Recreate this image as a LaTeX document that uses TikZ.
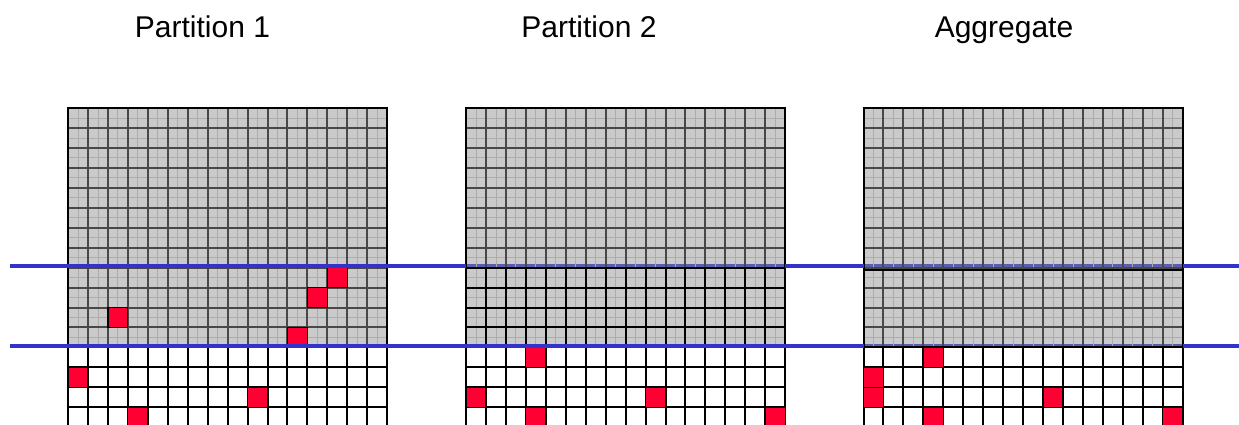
\documentclass[tikz,border=0pt]{standalone}
\usepackage{fontspec}
\setmainfont{Liberation Sans}
\definecolor{bl}{RGB}{51,51,204}
\definecolor{blc}{RGB}{92,92,176}
\definecolor{gf}{RGB}{202,202,202}
\definecolor{gsub}{RGB}{172,172,172}
\definecolor{gmaj}{RGB}{72,72,72}
\definecolor{rc}{RGB}{255,0,51}
\def\cs{19.95}
\def\T{108}
\tikzset{
  subl/.style={draw=gsub,line width=0.8pt},
  majg/.style={draw=gmaj,line width=2pt},
  majb/.style={draw=black,line width=2pt},
  bord/.style={draw=black,line width=2pt},
  redc/.style={fill=rc,draw=black,line width=1.2pt},
  blueline/.style={draw=bl,line width=4.2pt},
  bluecov/.style={draw=blc,line width=4.2pt},
  title/.style={font=\fontsize{30}{36}\selectfont,anchor=base,inner sep=0pt}
}
\newcommand\greyfill[3]{\fill[gf] (#1,{\T+#2*\cs}) rectangle ({#1+16*\cs},{\T+#3*\cs});}
\newcommand\subgrid[3]{%
  \foreach \i in {0,...,15} {\draw[subl] ({#1+(\i+0.5)*\cs},{\T+#2*\cs}) -- ({#1+(\i+0.5)*\cs},{\T+#3*\cs});}
  \pgfmathtruncatemacro\rlast{#3-1}
  \foreach \j in {#2,...,\rlast} {\draw[subl] (#1,{\T+(\j+0.5)*\cs}) -- ({#1+16*\cs},{\T+(\j+0.5)*\cs});}
}
\newcommand\majgrid[4]{%
  \foreach \i in {1,...,15} {\draw[#4] ({#1+\i*\cs},{\T+#2*\cs}) -- ({#1+\i*\cs},{\T+#3*\cs});}
  \foreach \j in {#2,...,#3} {\draw[#4] (#1,{\T+\j*\cs}) -- ({#1+16*\cs},{\T+\j*\cs});}
}
\newcommand\redcell[3]{\filldraw[redc] ({#1+#2*\cs},{\T+#3*\cs}) rectangle ++(\cs,\cs);}
\newcommand\border[1]{\draw[bord] (#1,{\T+17*\cs}) -- (#1,\T) -- ({#1+16*\cs},\T) -- ({#1+16*\cs},{\T+17*\cs});}
\begin{document}
\begin{tikzpicture}[x=1pt,y=-1pt]
\useasboundingbox (0,0) rectangle (1239,424);
\clip (0,0) rectangle (1239,424);
\fill[white] (0,0) rectangle (1239,424);

% titles
\node[title] (t1) at (202.5,37) {Partition 1};
\node[title] (t2) at (589,37) {Partition 2};
\node[title] (t3) at (1004,37) {Aggregate};

% ---------- Partition 1 ----------
\def\La{68}
\greyfill{\La}{0}{12}
\subgrid{\La}{0}{12}
\majgrid{\La}{0}{12}{majg}
\majgrid{\La}{12}{16}{majb}
\border{\La}
\redcell{\La}{13}{8}
\redcell{\La}{12}{9}
\redcell{\La}{2}{10}
\redcell{\La}{11}{11}
\redcell{\La}{0}{13}
\redcell{\La}{9}{14}
\redcell{\La}{3}{15}

% ---------- Partition 2 ----------
\def\Lb{466}
\greyfill{\Lb}{0}{12}
\draw[bluecov] (\Lb,265.7) -- ({\Lb+16*\cs},265.7);
\subgrid{\Lb}{0}{12}
\majgrid{\Lb}{0}{8}{majg}
\majgrid{\Lb}{8}{16}{majb}
\border{\Lb}
\redcell{\Lb}{3}{12}
\redcell{\Lb}{0}{14}
\redcell{\Lb}{9}{14}
\redcell{\Lb}{3}{15}
\redcell{\Lb}{15}{15}

% ---------- Aggregate ----------
\def\Lc{863.5}
\greyfill{\Lc}{0}{12}
\draw[bluecov] (\Lc,265.7) -- ({\Lc+16*\cs},265.7);
\draw[bluecov] (\Lc,345.7) -- ({\Lc+16*\cs},345.7);
\subgrid{\Lc}{0}{12}
\majgrid{\Lc}{0}{12}{majg}
\majgrid{\Lc}{12}{16}{majb}
\draw[majb] (\Lc,{\T+8*\cs+2}) -- ({\Lc+16*\cs},{\T+8*\cs+2});
\border{\Lc}
\redcell{\Lc}{3}{12}
\redcell{\Lc}{0}{13}
\redcell{\Lc}{0}{14}
\redcell{\Lc}{9}{14}
\redcell{\Lc}{3}{15}
\redcell{\Lc}{15}{15}

% ---------- blue separator lines ----------
\draw[blueline] (10,265.7) -- (\Lb,265.7);
\draw[blueline] ({\Lb+16*\cs},265.7) -- (\Lc,265.7);
\draw[blueline] ({\Lc+16*\cs},265.7) -- (1239,265.7);
\draw[blueline] (10,345.7) -- (\Lc,345.7);
\draw[blueline] ({\Lc+16*\cs},345.7) -- (1239,345.7);
\end{tikzpicture}
\end{document}
